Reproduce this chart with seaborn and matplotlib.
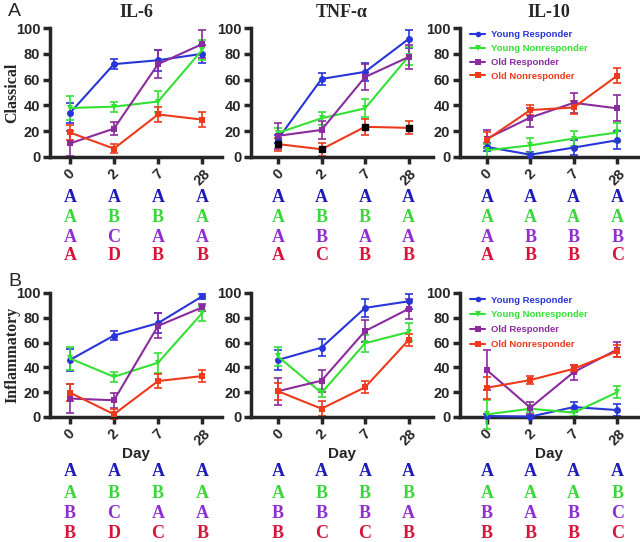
import numpy as np
import pandas as pd
import matplotlib
matplotlib.use("Agg")
import matplotlib.pyplot as plt
import matplotlib.transforms as mtransforms
import seaborn as sns

# %% Data
days = ["0", "2", "7", "28"]
groups = ["Young Responder", "Young Nonresponder", "Old Responder", "Old Nonresponder"]
cytokines = ["IL-6", "TNF-\u03b1", "IL-10"]

# rows = groups, cols = days
il6_cls_mean = [[34, 72, 75, 80], [38, 39, 43, 83], [10.5, 22, 72, 87.5], [19, 6.5, 33, 29]]
il6_cls_err = [[8, 4, 8, 7], [9, 4, 8, 8], [10, 5, 11, 11], [6, 3.5, 6, 6]]
tnf_cls_mean = [[14, 60.5, 66, 91.5], [18.7, 30, 37.7, 78], [16.4, 21, 62, 77.5], [10, 6, 23.4, 22.6]]
tnf_cls_err = [[3, 5, 7, 7], [4, 5, 7, 7], [10, 7, 10, 9], [5, 5, 6, 5]]
il10_cls_mean = [[7.8, 1.8, 7.3, 13], [5.2, 9, 14.3, 19], [14.3, 30.6, 42, 37.7], [13.5, 36.4, 38.4, 63]]
il10_cls_err = [[3, 2, 6, 7], [5, 6, 6, 7], [7, 7, 8, 10], [6, 4, 5, 6]]

il6_inf_mean = [[46, 65.7, 75.7, 97.3], [47.3, 32.4, 43.8, 83.8], [14.9, 13.5, 73.5, 88.4], [19.7, 2.2, 29, 33]]
il6_inf_err = [[9, 4, 8, 2], [9, 4, 8, 6], [12, 6, 10, 3], [7, 4, 6, 5]]
tnf_inf_mean = [[46, 56, 88, 93.3], [48.8, 19.5, 59.5, 68.5], [20.8, 29.3, 69.3, 87.2], [20.8, 6.7, 24, 62]]
tnf_inf_err = [[8, 7, 7, 6], [8, 3, 7, 7], [11, 9, 9, 8], [7, 6, 5, 5]]
il10_inf_mean = [[0.8, 0.3, 8, 5.6], [2.1, 6.7, 3.5, 20], [37.8, 7.5, 36.2, 54.4], [23.6, 29.8, 38.9, 53]]
il10_inf_err = [[2, 1, 4, 5], [12, 3, 3, 5], [16, 5, 6, 6], [9, 3, 3, 5]]

# significance letters, rows = groups, cols = days
il6_cls_letters = ["AAAA", "ABBA", "ACAA", "ADBB"]
tnf_cls_letters = ["AAAA", "ABBA", "ABAA", "ACBB"]
il10_cls_letters = ["AAAA", "AAAA", "ABBB", "ABBC"]
il6_inf_letters = ["AAAA", "ABBA", "BCAA", "BDCB"]
tnf_inf_letters = ["AAAA", "ABBB", "BBBA", "BCCB"]
il10_inf_letters = ["AAAA", "AAAB", "BABC", "BBBC"]

line_colors = ["#2a35d8", "#35e035", "#8b2c9e", "#ee3a1c"]
letter_colors = ["#1c1cb8", "#3cd63c", "#8e30d0", "#d8143a"]
markers = ["o", "v", "s", "s"]

rows = [
    ("Classical", [(il6_cls_mean, il6_cls_err, il6_cls_letters),
                   (tnf_cls_mean, tnf_cls_err, tnf_cls_letters),
                   (il10_cls_mean, il10_cls_err, il10_cls_letters)]),
    ("Inflammatory", [(il6_inf_mean, il6_inf_err, il6_inf_letters),
                      (tnf_inf_mean, tnf_inf_err, tnf_inf_letters),
                      (il10_inf_mean, il10_inf_err, il10_inf_letters)]),
]

# %% Layout (pixels of a 640x542 figure)
W, H = 640, 542
col_px = [(50, 222, (-0.45, 3.45)), (251, 433, (-0.62, 3.56)), (460, 638, (-0.62, 3.48))]
row_px = [(28, 157), (293, 417)]
letter_rows_px = [[198, 217.5, 237, 256], [472, 493, 514, 534]]
legend_spacing = [0.5, 0.62]
ylabel_x_px = 20

sns.set_theme(style="ticks")
plt.rcParams["font.family"] = ["Liberation Sans", "DejaVu Sans"]
serif = ["Liberation Serif", "DejaVu Serif"]

fig = plt.figure(figsize=(6.4, 5.42), dpi=100)

for r, (ylab, panels) in enumerate(rows):
    top, bot = row_px[r]
    for c, (mean, err, letters) in enumerate(panels):
        L, R, xlim = col_px[c]
        ax = fig.add_axes([L / W, 1 - bot / H, (R - L) / W, (bot - top) / H])

        df = pd.DataFrame(
            [(d, groups[g], mean[g][d]) for g in range(4) for d in range(4)],
            columns=["pos", "group", "value"],
        )
        sns.lineplot(data=df, x="pos", y="value", hue="group", style="group",
                     hue_order=groups, style_order=groups,
                     palette=line_colors, markers=markers, dashes=False,
                     markersize=5, markeredgewidth=0, linewidth=1.5,
                     legend=(c == 2), ax=ax, clip_on=False, zorder=3)
        for g in range(4):
            ax.errorbar(range(4), mean[g], yerr=err[g], fmt="none",
                        ecolor=line_colors[g], elinewidth=1.2, capsize=3,
                        capthick=1.2, clip_on=False, zorder=2)
        if r == 0 and c == 1:
            # Old Nonresponder drawn with black markers here
            ax.plot(range(4), mean[3], "s", color="black", markersize=5,
                    clip_on=False, zorder=4)

        ax.set_xlim(*xlim)
        ax.set_ylim(0, 100)
        ax.set_yticks(range(0, 101, 20))
        ax.set_xticks(range(4))
        ax.set_xticklabels(days, rotation=45, ha="center")
        for s in ["top", "right"]:
            ax.spines[s].set_visible(False)
        for s in ["left", "bottom"]:
            ax.spines[s].set_linewidth(2.5)
        ax.tick_params(width=2.5, length=5, direction="out", pad=2)
        for t in ax.get_xticklabels() + ax.get_yticklabels():
            t.set_fontweight("bold")
            t.set_fontsize(10.5)
        ax.set_xlabel("Day" if r == 1 else "", fontsize=11, fontweight="bold", labelpad=-1)
        ax.set_ylabel("")
        if r == 0:
            ax.set_title(cytokines[c], family=serif, fontsize=13, fontweight="bold", pad=8)
        if c == 0:
            ax.set_ylabel(ylab, family=serif, fontsize=11.5, fontweight="bold")
            ax.yaxis.set_label_coords((ylabel_x_px - L) / (R - L), 0.5)

        if c == 2:
            leg = ax.legend(loc="upper left", bbox_to_anchor=(0.035, 1.01), frameon=False,
                            fontsize=6.8, handlelength=1.6, handletextpad=0.6,
                            labelspacing=legend_spacing[r], borderaxespad=0)
            for txt, col in zip(leg.get_texts(), line_colors):
                txt.set_color(col)
                txt.set_fontweight("bold")
            for h in leg.legend_handles:
                h.set_markersize(4)

        tr = mtransforms.blended_transform_factory(ax.transData, fig.transFigure)
        for g in range(4):
            for d in range(4):
                ax.text(d, 1 - letter_rows_px[r][g] / H, letters[g][d], transform=tr,
                        ha="center", va="center", family=serif, fontsize=13,
                        fontweight="bold", color=letter_colors[g])

fig.text(8 / W, 1 - 12 / H, "A", fontsize=14, va="center", ha="left")
fig.text(8 / W, 1 - 282 / H, "B", fontsize=14, va="center", ha="left")

fig.savefig("out.png", dpi=100)
